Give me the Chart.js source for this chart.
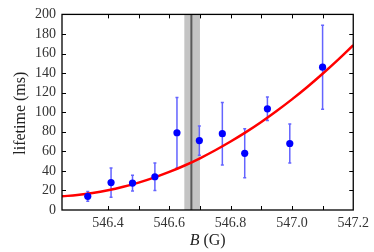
<!DOCTYPE html>
<html>
<head>
<meta charset="utf-8">
<script src="https://cdn.jsdelivr.net/npm/chart.js@4.4.0/dist/chart.umd.min.js"></script>
<style>
  html, body { margin: 0; padding: 0; background: #fff; }
  #wrap { width: 374px; height: 252px; }
</style>
</head>
<body>
<div id="wrap"><canvas id="lifetimeChart" width="374" height="252"></canvas></div>
<script>
// measured points (field in G, lifetime in ms, error in ms)
const fieldB = [546.334, 546.41, 546.48, 546.553, 546.625, 546.698, 546.773, 546.846, 546.92, 546.993, 547.10];
const lifetime = [14, 28, 27.5, 34, 79, 71, 78, 58, 103.5, 68, 146];
const lifetimeErr = [5, 15, 8, 14, 36, 15, 32, 25, 12, 20, 43];

// fit curve
const fitB = [546.25, 546.30, 546.35, 546.40, 546.45, 546.50, 546.55, 546.60, 546.65, 546.70,
              546.75, 546.80, 546.85, 546.90, 546.95, 547.00, 547.05, 547.10, 547.15, 547.20];
const fitLifetime = [14, 15.3, 17.3, 20.1, 23.7, 28.0, 33.1, 38.9, 45.5, 52.9,
                     61.1, 70.0, 79.6, 90.0, 101.2, 113.1, 125.8, 139.3, 153.5, 168.5];

// resonance position and its uncertainty band
const resonanceB = 546.672;
const resonanceBand = [546.649, 546.70];

const xTickLabels = ['546.4', '546.6', '546.8', '547.0', '547.2'];

const serif = '"Liberation Serif", "DejaVu Serif", serif';

const bandPlugin = {
  id: 'band',
  beforeDatasetsDraw(chart) {
    const { ctx, chartArea: a, scales: { x, y } } = chart;
    ctx.save();
    const x0 = x.getPixelForValue(resonanceBand[0]);
    const x1 = x.getPixelForValue(resonanceBand[1]);
    ctx.fillStyle = '#c4c4c4';
    ctx.fillRect(x0, a.top, x1 - x0, a.height);
    const xc = x.getPixelForValue(resonanceB);
    ctx.strokeStyle = '#5a5a5a';
    ctx.lineWidth = 2;
    ctx.beginPath();
    ctx.moveTo(xc, a.top);
    ctx.lineTo(xc, a.bottom);
    ctx.stroke();

    // error bars
    ctx.strokeStyle = '#6464ff';
    ctx.lineWidth = 1.5;
    fieldB.forEach((b, i) => {
      const px = x.getPixelForValue(b);
      const top = y.getPixelForValue(lifetime[i] + lifetimeErr[i]);
      const bot = y.getPixelForValue(lifetime[i] - lifetimeErr[i]);
      ctx.beginPath();
      ctx.moveTo(px, top); ctx.lineTo(px, bot);
      ctx.moveTo(px - 1.5, top); ctx.lineTo(px + 1.5, top);
      ctx.moveTo(px - 1.5, bot); ctx.lineTo(px + 1.5, bot);
      ctx.stroke();
    });
    ctx.restore();
  }
};

const framePlugin = {
  id: 'frame',
  afterDraw(chart) {
    const { ctx, chartArea: a, scales: { x, y } } = chart;
    ctx.save();
    ctx.strokeStyle = '#000';
    ctx.lineWidth = 1.3;
    ctx.strokeRect(a.left, a.top, a.width, a.height);
    ctx.lineWidth = 1;
    ctx.beginPath();
    x.ticks.forEach(t => {
      const px = Math.round(x.getPixelForValue(t.value)) + 0.5;
      if (px <= a.left + 2 || px >= a.right - 2) return;
      ctx.moveTo(px, a.bottom); ctx.lineTo(px, a.bottom - 4);
      ctx.moveTo(px, a.top); ctx.lineTo(px, a.top + 4);
    });
    y.ticks.forEach(t => {
      const py = Math.round(y.getPixelForValue(t.value)) + 0.5;
      if (py <= a.top + 2 || py >= a.bottom - 2) return;
      ctx.moveTo(a.left, py); ctx.lineTo(a.left + 4, py);
      ctx.moveTo(a.right, py); ctx.lineTo(a.right - 4, py);
    });
    ctx.stroke();

    // axis titles
    ctx.fillStyle = '#222';
    ctx.textBaseline = 'middle';
    ctx.font = '16px ' + serif;
    ctx.save();
    ctx.translate(21, (a.top + a.bottom) / 2 + 1);
    ctx.rotate(-Math.PI / 2);
    ctx.textAlign = 'center';
    ctx.fillText('lifetime (ms)', 0, 0);
    ctx.restore();

    const italic = 'italic 16px ' + serif;
    const normal = '16px ' + serif;
    ctx.font = italic;
    const wB = ctx.measureText('B').width;
    ctx.font = normal;
    const wRest = ctx.measureText(' (G)').width;
    const startX = (a.left + a.right) / 2 - (wB + wRest) / 2;
    ctx.textAlign = 'left';
    ctx.font = italic;
    ctx.fillText('B', startX, 241);
    ctx.font = normal;
    ctx.fillText(' (G)', startX + wB, 241);
    ctx.restore();
  }
};

const ctx = document.getElementById('lifetimeChart').getContext('2d');
new Chart(ctx, {
  type: 'scatter',
  data: {
    datasets: [
      {
        label: 'data',
        data: fieldB.map((b, i) => ({ x: b, y: lifetime[i] })),
        backgroundColor: '#0000ff',
        borderColor: '#0000ff',
        borderWidth: 0,
        pointRadius: 3.6,
        order: 0
      },
      {
        type: 'line',
        label: 'fit',
        data: fitB.map((b, i) => ({ x: b, y: fitLifetime[i] })),
        borderColor: '#ff0000',
        borderWidth: 2.5,
        pointRadius: 0,
        tension: 0.4,
        fill: false,
        order: 1
      }
    ]
  },
  options: {
    responsive: false,
    animation: false,
    layout: { padding: { left: 0, top: 11, right: 17, bottom: 0 } },
    plugins: { legend: { display: false }, tooltip: { enabled: false } },
    scales: {
      x: {
        type: 'linear',
        min: 546.25,
        max: 547.2,
        afterFit: s => { s.height = 42; },
        grid: { display: false, drawTicks: false },
        border: { display: false },
        ticks: {
          stepSize: 0.1,
          autoSkip: false,
          maxRotation: 0,
          padding: 5,
          color: '#333',
          font: { family: serif, size: 14 },
          callback: v => {
            const s = v.toFixed(1);
            return xTickLabels.includes(s) && Math.abs(v * 10 - Math.round(v * 10)) < 1e-6 ? s : '';
          }
        }
      },
      y: {
        min: 0,
        max: 200,
        afterFit: s => { s.width = 62; },
        grid: { display: false, drawTicks: false },
        border: { display: false },
        ticks: {
          stepSize: 20,
          autoSkip: false,
          padding: 6,
          color: '#333',
          font: { family: serif, size: 14 }
        }
      }
    }
  },
  plugins: [bandPlugin, framePlugin]
});
</script>
</body>
</html>
